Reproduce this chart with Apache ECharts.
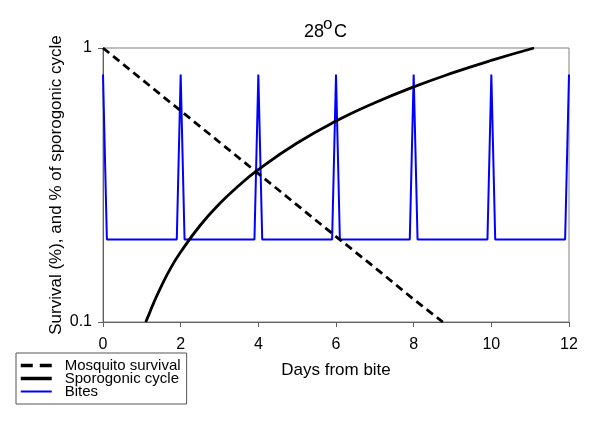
<!DOCTYPE html>
<html><head><meta charset="utf-8">
<script src="https://cdn.jsdelivr.net/npm/echarts@6/dist/echarts.min.js"></script>
<style>html,body{margin:0;padding:0;background:#fff}#c{width:600px;height:424px}</style>
</head><body><div id="c"></div>
<script>
// Data
var xTicks = [0, 2, 4, 6, 8, 10, 12];
var yTicks = [0.1, 1];
var survivalDays = [0, 1, 2, 3, 4, 5, 6, 7, 8, 8.75];
var survivalValues = [1, 0.768, 0.59, 0.453, 0.348, 0.267, 0.205, 0.158, 0.121, 0.1];
var sporoDays = [1.1, 1.2, 1.3, 1.5, 1.75, 2, 2.5, 3, 3.5, 4, 5, 6, 7, 8, 9, 10, 11.1];
var sporoValues = [0.1, 0.108, 0.117, 0.135, 0.158, 0.18, 0.225, 0.27, 0.315, 0.36, 0.45, 0.541, 0.631, 0.721, 0.811, 0.901, 1.0];
var biteDays = [0, 0.1, 1.9, 2, 2.1, 3.9, 4, 4.1, 5.9, 6, 6.1, 7.9, 8, 8.1, 9.9, 10, 10.1, 11.9, 12];
var biteValues = [0.8, 0.2, 0.2, 0.8, 0.2, 0.2, 0.8, 0.2, 0.2, 0.8, 0.2, 0.2, 0.8, 0.2, 0.2, 0.8, 0.2, 0.2, 0.8];
var seriesNames = ['Mosquito survival', 'Sporogonic cycle', 'Bites'];

function pairs(xs, ys) { return xs.map(function (x, i) { return [x, ys[i]]; }); }

var FONT = '"Liberation Sans", Arial, sans-serif';
var chart = echarts.init(document.getElementById('c'), null, { renderer: 'canvas' });
chart.setOption({
  animation: false,
  backgroundColor: '#fff',
  textStyle: { fontFamily: FONT },
  grid: { left: 103, top: 48, width: 466, height: 274, show: true, borderColor: '#808080', borderWidth: 1, containLabel: false },
  xAxis: {
    type: 'value', min: 0, max: 12, interval: 2,
    name: 'Days from bite', nameLocation: 'middle', nameGap: 40, nameMoveOverlap: false,
    nameTextStyle: { fontFamily: FONT, fontSize: 17, color: '#000' },
    axisLine: { show: true, lineStyle: { color: '#606060', width: 1 } },
    axisTick: { show: true, length: 5, lineStyle: { color: '#606060' } },
    axisLabel: { fontFamily: FONT, fontSize: 16, color: '#000', margin: 15,
      formatter: function (v) { return xTicks.indexOf(v) >= 0 ? String(v) : ''; } },
    splitLine: { show: false }
  },
  yAxis: {
    type: 'log', logBase: 10, min: yTicks[0], max: yTicks[1],
    name: 'Survival (%), and % of sporogonic cycle',
    nameLocation: 'middle', nameGap: 38, nameRotate: 90, nameMoveOverlap: false,
    nameTextStyle: { fontFamily: FONT, fontSize: 17, color: '#000' },
    axisLine: { show: true, lineStyle: { color: '#606060', width: 1 } },
    axisTick: { show: true, length: 5, lineStyle: { color: '#606060' } },
    axisLabel: { fontFamily: FONT, fontSize: 16, color: '#000', margin: 11,
      formatter: function (v) { return String(v); } },
    splitLine: { show: false }
  },
  legend: {
    orient: 'vertical', left: 16, top: 353,
    padding: [5, 6, 5, 3],
    itemWidth: 31, itemHeight: 13, itemGap: -2,
    borderColor: '#555', borderWidth: 1,
    itemStyle: { opacity: 0 },
    textStyle: { fontFamily: FONT, fontSize: 15, color: '#000', lineHeight: 13, padding: [0, 0, 0, 8] },
    data: [
      { name: seriesNames[0], lineStyle: { type: [12, 7], width: 3.5, color: '#000' } },
      { name: seriesNames[1], lineStyle: { type: 'solid', width: 3.5, color: '#000' } },
      { name: seriesNames[2], lineStyle: { type: 'solid', width: 2, color: '#0000ff' } }
    ]
  },
  graphic: [
    { type: 'text', left: 304, top: 23, style: { text: '28', font: '18px ' + FONT, fill: '#000' } },
    { type: 'text', left: 323, top: 16, style: { text: 'o', font: '17px ' + FONT, fill: '#000' } },
    { type: 'text', left: 334, top: 23, style: { text: 'C', font: '18px ' + FONT, fill: '#000' } }
  ],
  series: [
    { name: seriesNames[0], type: 'line', data: pairs(survivalDays, survivalValues), showSymbol: false, symbol: 'none',
      lineStyle: { color: '#000', width: 2.8, type: [8, 5] }, itemStyle: { color: '#000' }, z: 3 },
    { name: seriesNames[1], type: 'line', data: pairs(sporoDays, sporoValues), showSymbol: false, symbol: 'none', smooth: true,
      lineStyle: { color: '#000', width: 2.8 }, itemStyle: { color: '#000' }, z: 3 },
    { name: seriesNames[2], type: 'line', data: pairs(biteDays, biteValues), showSymbol: false, symbol: 'none',
      lineStyle: { color: '#0000ff', width: 2 }, itemStyle: { color: '#0000ff' }, z: 2 }
  ]
});
</script></body></html>
